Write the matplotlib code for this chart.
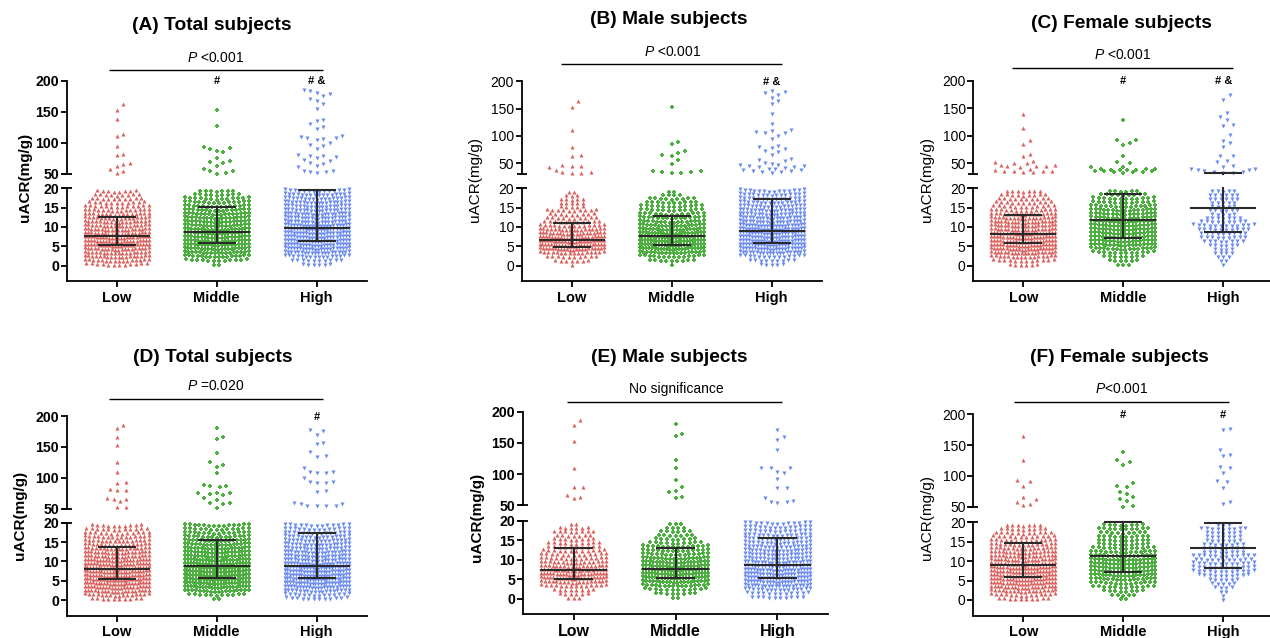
import numpy as np
import matplotlib
matplotlib.use('Agg')
import matplotlib.pyplot as plt
from matplotlib.lines import Line2D

plt.rcParams['font.family'] = ['Liberation Sans', 'DejaVu Sans']
plt.rcParams['mathtext.fontset'] = 'custom'
plt.rcParams['mathtext.it'] = 'Liberation Sans:italic'
plt.rcParams['mathtext.rm'] = 'Liberation Sans'

# ---------------- data ----------------
groups = ['Low', 'Middle', 'High']
colors = ['#D9625E', '#4DAF3F', '#6C8BEF']
markers = ['^', 'P', 'v']

titles = ['(A) Total subjects', '(B) Male subjects', '(C) Female subjects',
          '(D) Total subjects', '(E) Male subjects', '(F) Female subjects']
p_labels = [r'$\it{P}$ <0.001', r'$\it{P}$ <0.001', r'$\it{P}$ <0.001',
            r'$\it{P}$ =0.020', 'No significance', r'$\it{P}$<0.001']
sig_marks = [['', '#', '# &'], ['', '', '# &'], ['', '#', '# &'],
             ['', '', '#'], ['', '', ''], ['', '#', '#']]
upper_ticks = [50, 100, 150, 200]
lower_ticks = [0, 5, 10, 15, 20]
y_label = 'uACR(mg/g)'

# counts of points in 1-unit rows from 0 to 20 (row i covers [i, i+1))
A_low_rows = [12, 16, 18, 18, 20, 22, 22, 22, 20, 20, 18, 18, 17, 16, 15, 13, 11, 10, 9, 8]
A_mid_rows = [2, 12, 16, 18, 20, 20, 20, 20, 20, 20, 18, 18, 18, 17, 16, 15, 14, 13, 9, 7]
A_high_rows = [6, 10, 16, 20, 22, 22, 22, 22, 22, 22, 22, 20, 20, 20, 18, 18, 18, 17, 16, 14]
B_low_rows = [1, 7, 10, 16, 22, 24, 24, 22, 20, 18, 14, 11, 10, 9, 10, 5, 5, 5, 3, 2]
B_mid_rows = [1, 9, 14, 18, 22, 24, 24, 24, 22, 20, 18, 16, 15, 13, 12, 12, 10, 9, 4, 2]
B_high_rows = [5, 9, 14, 20, 22, 22, 22, 22, 22, 22, 22, 20, 20, 18, 18, 17, 16, 15, 15, 14]
C_low_rows = [6, 12, 16, 20, 22, 22, 22, 22, 22, 20, 20, 20, 18, 16, 14, 12, 11, 10, 9, 7]
C_mid_rows = [3, 6, 8, 12, 16, 18, 18, 18, 18, 18, 18, 18, 16, 16, 16, 14, 12, 12, 9, 6]
C_high_rows = [1, 2, 3, 4, 4, 6, 8, 9, 9, 10, 12, 9, 7, 5, 6, 5, 5, 6, 6, 5]
D_low_rows = [10, 16, 20, 22, 24, 24, 24, 24, 24, 22, 22, 20, 20, 18, 17, 16, 15, 13, 12, 10]
D_mid_rows = [2, 11, 18, 22, 24, 24, 24, 24, 24, 22, 22, 20, 20, 20, 18, 17, 15, 14, 13, 14]
D_high_rows = [12, 14, 18, 22, 24, 24, 24, 24, 24, 22, 20, 20, 20, 18, 18, 17, 16, 15, 14, 13]
E_low_rows = [3, 6, 8, 14, 18, 22, 22, 20, 18, 16, 14, 13, 12, 10, 10, 8, 7, 8, 6, 2]
E_mid_rows = [2, 8, 12, 16, 20, 22, 22, 22, 20, 20, 18, 15, 14, 14, 10, 8, 7, 6, 4, 3]
E_high_rows = [10, 12, 16, 20, 22, 22, 22, 22, 20, 20, 18, 18, 18, 17, 16, 16, 15, 14, 14, 13]
F_low_rows = [10, 14, 18, 20, 22, 22, 22, 22, 22, 20, 20, 18, 18, 16, 15, 14, 12, 11, 9, 7]
F_mid_rows = [2, 5, 8, 12, 14, 16, 18, 18, 18, 18, 18, 16, 14, 12, 10, 10, 10, 9, 10, 8]
F_high_rows = [1, 1, 2, 4, 5, 6, 10, 12, 12, 12, 11, 12, 8, 8, 8, 7, 7, 7, 9, 3]

# individual values above 20 mg/g
A_low_out = [162, 153, 139, 114, 110, 94, 82, 80, 67, 65, 62, 58, 54, 51]
A_mid_out = [152, 127, 93, 91, 90, 87, 85, 76, 70, 69, 68, 62, 57, 55, 54, 51, 50]
A_high_out = [185, 183, 180, 178, 175, 170, 168, 162, 155, 137, 135, 130, 125, 122, 110, 109,
              108, 107, 106, 104, 100, 97, 95, 90, 80, 79, 78, 77, 76, 72, 70, 68, 65, 63,
              60, 55, 54, 53, 52, 51]
B_low_out = [163, 153, 110, 80, 65, 63, 46, 45, 45, 42, 38, 34, 33, 32, 32]
B_mid_out = [153, 89, 85, 72, 68, 65, 63, 56, 48, 36, 35, 34, 33, 32, 32]
B_high_out = [183, 180, 178, 175, 170, 163, 158, 140, 122, 110, 108, 107, 106, 105, 100, 95,
              82, 80, 78, 76, 73, 70, 65, 58, 55, 53, 50, 48, 47, 46, 45, 44, 43, 42, 41,
              40, 39, 38, 37, 36, 35, 34, 33, 32]
C_low_out = [140, 114, 93, 84, 66, 62, 53, 52, 51, 50, 47, 46, 45, 45, 44, 43, 40, 37, 36,
             35, 35, 35, 34, 34]
C_mid_out = [128, 93, 92, 86, 83, 63, 52, 50, 43, 43, 40, 39, 39, 38, 38, 37, 37, 36, 35,
             35, 34, 33, 33, 32]
C_high_out = [175, 166, 141, 135, 129, 120, 118, 101, 91, 87, 79, 63, 63, 54, 52, 45, 43,
              40, 40, 38, 37, 35, 34, 33, 32, 31]
D_low_out = [185, 180, 166, 153, 126, 110, 93, 92, 82, 81, 80, 68, 66, 65, 62, 53, 52]
D_mid_out = [180, 166, 162, 140, 126, 120, 118, 107, 88, 87, 86, 85, 76, 75, 75, 73, 72,
             67, 64, 60, 59, 57, 51]
D_high_out = [177, 175, 169, 157, 154, 141, 135, 134, 116, 110, 109, 108, 107, 100, 94, 93,
              92, 91, 78, 77, 60, 58, 57, 55, 55, 54, 54]
E_low_out = [187, 179, 153, 110, 79, 79, 66, 64, 61]
E_mid_out = [180, 164, 161, 122, 109, 90, 79, 73, 71, 64, 62]
E_high_out = [171, 159, 155, 139, 110, 109, 109, 104, 101, 92, 78, 77, 61, 57, 56, 55, 54]
F_low_out = [165, 126, 93, 92, 84, 66, 62, 58, 54, 52]
F_mid_out = [139, 126, 123, 117, 88, 84, 82, 74, 71, 66, 63, 60, 51, 50]
F_high_out = [176, 174, 142, 134, 132, 115, 113, 105, 91, 90, 80, 57, 55]

# median and interquartile range
A_median = [7.7, 8.8, 9.8];   A_q1 = [5.2, 5.8, 6.4];   A_q3 = [12.5, 15.2, 19.6]
B_median = [6.7, 7.75, 9.05]; B_q1 = [4.75, 5.3, 5.95]; B_q3 = [10.9, 12.8, 17.3]
C_median = [8.1, 11.7, 14.9]; C_q1 = [5.8, 7.2, 8.6];   C_q3 = [13.0, 18.4, 31.0]
D_median = [8.15, 8.85, 8.9]; D_q1 = [5.4, 5.7, 5.7];   D_q3 = [13.8, 15.4, 17.4]
E_median = [7.4, 7.7, 8.6];   E_q1 = [5.1, 5.4, 5.2];   E_q3 = [13.1, 12.9, 15.6]
F_median = [8.9, 11.25, 13.3]; F_q1 = [5.9, 7.1, 8.2];  F_q3 = [14.7, 20.1, 19.9]

rows_all = [[A_low_rows, A_mid_rows, A_high_rows], [B_low_rows, B_mid_rows, B_high_rows],
            [C_low_rows, C_mid_rows, C_high_rows], [D_low_rows, D_mid_rows, D_high_rows],
            [E_low_rows, E_mid_rows, E_high_rows], [F_low_rows, F_mid_rows, F_high_rows]]
outs_all = [[A_low_out, A_mid_out, A_high_out], [B_low_out, B_mid_out, B_high_out],
            [C_low_out, C_mid_out, C_high_out], [D_low_out, D_mid_out, D_high_out],
            [E_low_out, E_mid_out, E_high_out], [F_low_out, F_mid_out, F_high_out]]
stats_all = [(A_median, A_q1, A_q3), (B_median, B_q1, B_q3), (C_median, C_q1, C_q3),
             (D_median, D_q1, D_q3), (E_median, E_q1, E_q3), (F_median, F_q1, F_q3)]

# ---------------- layout (pixels) ----------------
W, H = 1270, 638
fig = plt.figure(figsize=(W / 100, H / 100), dpi=100)

# left, right, upper_top, upper_bottom, upper_ymin, lower_top, lower_bottom
layout = [
    (66.7, 366.7, 80.7, 173.7, 50, 188.3, 281.0),
    (521.7, 821.7, 81.3, 174.0, 30, 188.3, 281.0),
    (973.3, 1273.3, 81.0, 174.0, 30, 188.3, 281.0),
    (66.7, 366.7, 416.0, 508.7, 50, 522.7, 615.5),
    (522.7, 828.3, 411.7, 505.3, 50, 520.7, 614.3),
    (973.3, 1273.3, 414.3, 506.7, 50, 522.3, 615.5),
]
title_pos = [(212, 25), (669, 20), (1121, 23), (213, 357), (669, 357), (1119, 358)]
ptext_pos = [(216, 57.5), (672.5, 52.5), (1123, 55), (216, 386.5), (676.5, 389), (1121.5, 389)]
pline_pos = [(109, 323.3, 70), (561, 781.7, 64.3), (1012.3, 1233.3, 67.7),
             (109, 323.3, 399.3), (567.3, 782.3, 402.3), (1014, 1229, 401.7)]
ylabel_pos = [(25, 177), (475, 180), (926.7, 180), (20, 515), (476.7, 517), (926.7, 517)]
bold_ticks = [True, False, False, True, True, False]
bold_xlab = [True, True, True, True, True, True]
xlab_size = [10.5, 10.5, 10.5, 10.5, 11.5, 10.5]

ink = '#2a2a2a'
S0, WMAX = 0.055, 0.64
MS = 8.5


def px_axes(left, right, top, bottom):
    return fig.add_axes([left / W, 1 - bottom / H, (right - left) / W, (bottom - top) / H])


def fig_line(x0, x1, y0, y1, lw=1.1, color='black'):
    fig.add_artist(Line2D([x0 / W, x1 / W], [1 - y0 / H, 1 - y1 / H],
                          transform=fig.transFigure, color=color, lw=lw,
                          solid_capstyle='butt'))


def row_points(xc, rows):
    xs, ys = [], []
    for i, n in enumerate(rows):
        if n <= 0:
            continue
        s = min(S0, WMAX / (n - 1)) if n > 1 else 0.0
        offs = (np.arange(n) - (n - 1) / 2) * s
        xs.extend(xc + offs)
        ys.extend(i + 0.1 + 0.6 * np.abs(offs) / (WMAX / 2))
    return np.array(xs), np.array(ys)


def swarm(xc, vals, ppx, ppy, d=6.5, lim=32.0):
    placed = []
    step = 3.2
    nmax = int(lim / step)
    cands = [0.0] + [s * k * step for k in range(1, nmax + 1) for s in (1, -1)]
    for v in sorted(vals):
        best, bestd = 0.0, -1.0
        for c in cands:
            md = min([(c - px) ** 2 + ((v - pv) * ppy) ** 2 for px, pv in placed],
                     default=1e9)
            if md >= d * d:
                best = c
                break
            if md > bestd:
                bestd, best = md, c
        placed.append((best, v))
    return np.array([xc + p[0] / ppx for p in placed]), np.array([p[1] for p in placed])


for k in range(6):
    left, right, ut, ub, uymin, lt, lb = layout[k]
    axU = px_axes(left, right, ut, ub)
    axL = px_axes(left, right, lt, lb)
    axU.set_xlim(-0.5, 2.5); axL.set_xlim(-0.5, 2.5)
    axU.set_ylim(uymin, 200); axL.set_ylim(-4, 20)
    ppx = (right - left) / 3.0
    ppy_u = (ub - ut) / (200 - uymin)

    fw = 'bold' if bold_ticks[k] else 'normal'
    for ax in (axU, axL):
        for sp in ('top', 'right'):
            ax.spines[sp].set_visible(False)
        ax.spines['left'].set_linewidth(1.3)
        ax.spines['bottom'].set_linewidth(1.3)
        ax.tick_params(axis='y', length=4, width=1.3, pad=1.5,
                       labelsize=10.2 if bold_ticks[k] else 10)
        ax.patch.set_alpha(0)
    axU.spines['bottom'].set_visible(False)
    axU.set_xticks([])
    axU.set_yticks(upper_ticks)
    axL.set_yticks(lower_ticks)
    axU.set_yticklabels([str(t) for t in upper_ticks], fontweight=fw)
    axL.set_yticklabels([str(t) for t in lower_ticks], fontweight=fw)
    axL.set_xticks(range(3))
    axL.set_xticklabels(groups, fontsize=xlab_size[k],
                        fontweight='bold' if bold_xlab[k] else 'normal')
    axL.tick_params(axis='x', length=4, width=1.3, pad=3)

    # break stubs
    fig_line(left - 5, left + 5, ub, ub, lw=1.3)
    fig_line(left - 5, left + 5, lt, lt, lw=1.3)

    med, q1, q3 = stats_all[k]
    for g in range(3):
        xs, ys = row_points(g, rows_all[k][g])
        axL.scatter(xs, ys, s=MS, marker=markers[g], color=colors[g], linewidths=0,
                    zorder=2, clip_on=False)
        ox, oy = swarm(g, outs_all[k][g], ppx, ppy_u)
        axU.scatter(ox, oy, s=MS, marker=markers[g], color=colors[g], linewidths=0,
                    zorder=2, clip_on=False)
        # median + IQR
        for ax, lo, hi in ((axL, -4, 20.3), (axU, uymin - 0.5, 200)):
            if lo <= med[g] <= hi:
                ax.plot([g - 0.33, g + 0.33], [med[g]] * 2, color=ink, lw=1.5, zorder=3,
                        clip_on=False, solid_capstyle='butt')
            for q in (q1[g], q3[g]):
                if lo <= q <= hi:
                    ax.plot([g - 0.19, g + 0.19], [q] * 2, color=ink, lw=1.5, zorder=3,
                            clip_on=False, solid_capstyle='butt')
            a, b = max(q1[g], lo), min(q3[g], hi)
            if ax is axL:
                b = min(q3[g], 20)
            if b > a:
                ax.plot([g, g], [a, b], color=ink, lw=1.5, zorder=3, clip_on=False)
        if sig_marks[k][g]:
            fig.text((left + ppx * (g + 0.5)) / W, 1 - (ut + 0.5) / H, sig_marks[k][g],
                     ha='center', va='center', fontsize=8, fontweight='bold')

    tx, ty = title_pos[k]
    fig.text(tx / W, 1 - ty / H, titles[k], ha='center', va='center', fontsize=13.8,
             fontweight='bold')
    px_, py_ = ptext_pos[k]
    fig.text(px_ / W, 1 - py_ / H, p_labels[k], ha='center', va='center', fontsize=10)
    x0, x1, yl = pline_pos[k]
    fig_line(x0, x1, yl, yl, lw=1.0)
    lx, ly = ylabel_pos[k]
    fig.text(lx / W, 1 - ly / H, y_label, rotation=90, ha='center', va='center',
             fontsize=11, fontweight=fw)

fig.savefig('out.png', dpi=100)
